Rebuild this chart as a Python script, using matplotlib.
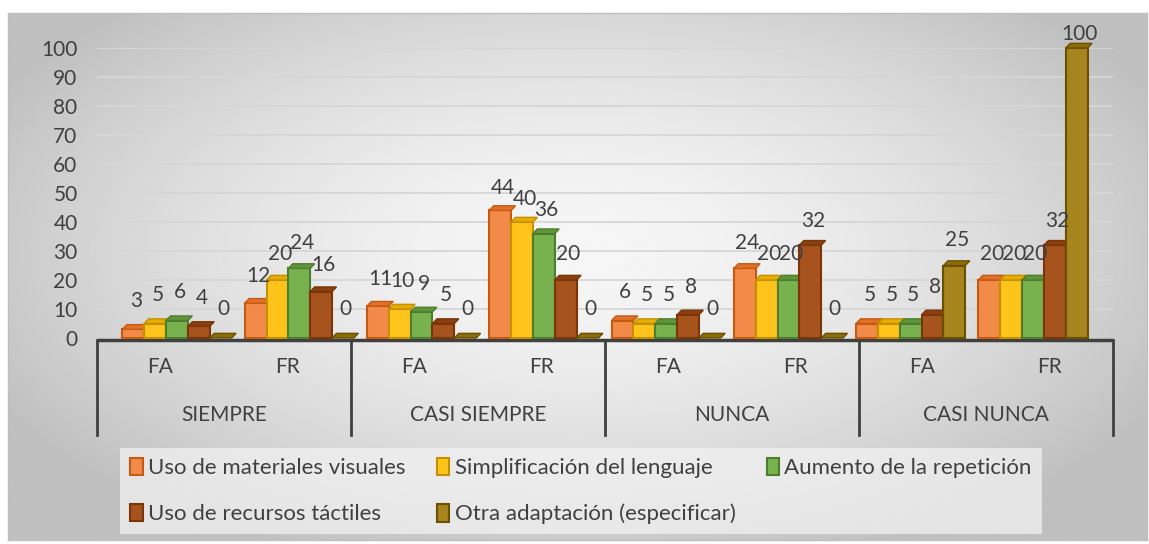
import numpy as np
import matplotlib.pyplot as plt
from matplotlib.patches import Polygon, Patch
import matplotlib.transforms as mtransforms

plt.rcParams['font.family'] = ['Lato', 'DejaVu Sans']

groups = ['SIEMPRE', 'CASI SIEMPRE', 'NUNCA', 'CASI NUNCA']
subcats = ['FA', 'FR']
series = ['Uso de materiales visuales', 'Simplificación del lenguaje',
          'Aumento de la repetición', 'Uso de recursos táctiles',
          'Otra adaptación (especificar)']
visuales = [3, 12, 11, 44, 6, 24, 5, 20]
lenguaje = [5, 20, 10, 40, 5, 20, 5, 20]
repeticion = [6, 24, 9, 36, 5, 20, 5, 20]
tactiles = [4, 16, 5, 20, 8, 32, 8, 32]
otra = [0, 0, 0, 0, 0, 0, 25, 100]
yticks = list(range(0, 101, 10))

data = [visuales, lenguaje, repeticion, tactiles, otra]
face = ['#f28a4a', '#ffc41c', '#78b24e', '#a6531d', '#a6841e']
edge = ['#c55a11', '#c49000', '#4f7d30', '#7a3508', '#6b5000']
topc = ['#e0702c', '#e8ad00', '#5f963a', '#8a4010', '#8c6c0c']

W, H = 1149, 544
fig = plt.figure(figsize=(W / 100, H / 100), dpi=100)

# chart area background (radial grey gradient)
bg = fig.add_axes([8 / W, 4 / H, 1139 / W, 527 / H], zorder=-10)
yy, xx = np.mgrid[-1:1:300j, -1:1:600j]
r = np.sqrt((xx / 1.0) ** 2 + ((yy + 0.1) / 1.1) ** 2)
v = 0.965 - 0.17 * np.clip(r, 0, 1.15) ** 1.6
bg.imshow(v, cmap='gray', vmin=0, vmax=1, aspect='auto', extent=[0, 1, 0, 1])
bg.set_xticks([])
bg.set_yticks([])
for s in bg.spines.values():
    s.set_color('#bfbfbf')
    s.set_linewidth(1)

ax = fig.add_axes([97 / W, (H - 338) / H, (1113 - 97) / W, 290 / H])
ax.patch.set_alpha(0)
ax.set_xlim(0, 8)
ax.set_ylim(0, 100)
for s in ax.spines.values():
    s.set_visible(False)
ax.set_xticks([])
ax.set_yticks(yticks)
ax.tick_params(axis='y', length=0, pad=14, labelsize=15, labelcolor='#404040')
for t in yticks[1:]:
    ax.axhline(t, color='#d6d6d6', lw=1.3, zorder=0)

w = 0.172
dx, dy = 0.035, 1.6
n = len(visuales)
for i in range(n):
    shift = 0.13 * (1 - i / 3.5)
    for s in range(5):
        val = data[s][i]
        x0 = i + 0.5 + shift + (s - 2.5) * w
        if val > 0:
            ax.bar(x0, val, width=w, align='edge', color=face[s],
                   edgecolor=edge[s], linewidth=1.5, zorder=3 + s,
                   clip_on=False)
        ax.add_patch(Polygon([(x0, val), (x0 + dx, val + dy),
                              (x0 + w + dx, val + dy), (x0 + w, val)],
                             closed=True, facecolor=topc[s], edgecolor=edge[s],
                             linewidth=1, zorder=3 + s, clip_on=False))
        ax.text(x0 + w / 2 + 0.02, val + 10 - 0.05 * val, str(val),
                ha='center', va='center', fontsize=15, color='#404040',
                zorder=20, clip_on=False)

# category axis
tr = mtransforms.blended_transform_factory(ax.transData, fig.transFigure)
ax.plot([0, 8], [1 - 340 / H, 1 - 340 / H], color='#404040', lw=2.5,
        transform=tr, clip_on=False, solid_capstyle='butt')
for b in range(0, 9, 2):
    ax.plot([b, b], [1 - 340 / H, 1 - 435 / H], color='#404040', lw=2,
            transform=tr, clip_on=False)
for i in range(n):
    ax.text(i + 0.5, 1 - 367 / H, subcats[i % 2], ha='center', va='center',
            fontsize=15, color='#404040', transform=tr)
for g, name in enumerate(groups):
    ax.text(2 * g + 1, 1 - 415 / H, name, ha='center', va='center',
            fontsize=15, color='#404040', transform=tr)

# legend
handles = [Patch(facecolor=face[s], edgecolor=edge[s], linewidth=1.5,
                 label=series[s]) for s in range(5)]
order = [0, 3, 1, 4, 2]
leg = fig.legend([handles[k] for k in order], [series[k] for k in order],
                 ncol=3, loc='center', bbox_to_anchor=(581 / W, 1 - 491 / H),
                 fontsize=16, frameon=True, fancybox=False,
                 handlelength=0.55, handleheight=0.85, handletextpad=0.25,
                 columnspacing=1.4, labelspacing=1.15, borderpad=0.45)
leg.get_frame().set_facecolor('#f4f4f4')
leg.get_frame().set_edgecolor('none')
leg.get_frame().set_alpha(0.7)
for t in leg.get_texts():
    t.set_color('#404040')

fig.savefig('out.png', dpi=100, facecolor='white')
